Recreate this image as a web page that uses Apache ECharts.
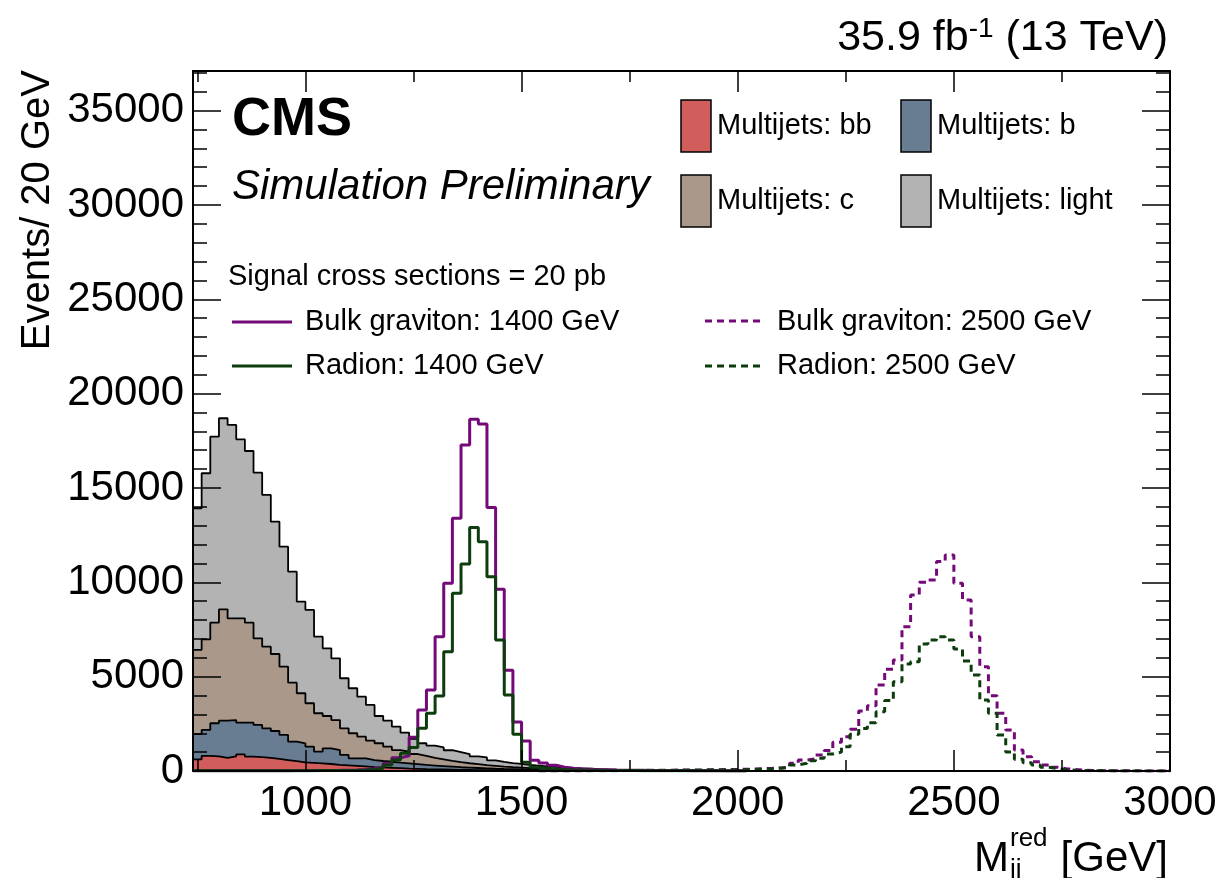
<!DOCTYPE html>
<html>
<head>
<meta charset="utf-8">
<script src="https://cdn.jsdelivr.net/npm/echarts@6/dist/echarts.min.js"></script>
<style>
  html, body { margin: 0; padding: 0; background: #fff; }
  #chart { width: 1220px; height: 878px; }
</style>
</head>
<body>
<div id="chart"></div>
<script>
// Binning of the reduced dijet mass histograms [GeV]
const BIN_START = 740;
const BIN_WIDTH = 20;

// Multijet backgrounds, events per 20 GeV bin, from the first bin (740 GeV) upwards
const multijetBB = [620,800,780,700,770,880,760,740,700,640, 580,520,460,430,400,370,330,300,270,240,
  210,190,170,150,130,115,100,90,80,70, 60,55,50,45,40,35,30,28,25,22,
  20,18,16,14,12,11,10,9,8,7, 6,5,5,4,4,3,3,3,2,2, 2,2,1,1];
const multijetB = [1330,1375,1750,1965,1930,1680,1800,1700,1560,1480, 1330,1035,1010,860,625,830,780,550,400,430,
  370,340,320,290,270,245,220,200,180,160, 140,125,110,95,80,70,65,57,50,43,
  38,34,30,26,23,20,17,15,13,11, 10,9,8,7,6,5,5,4,4,3, 3,3,2,2];
const multijetC = [4465,4805,5330,5905,5390,5530,5300,4590,4330,4080, 3620,3125,2650,2300,2035,1715,1590,1410,1330,1150,
  1030,940,800,670,620,540,480,410,360,310, 270,230,200,170,150,125,105,90,75,65,
  57,48,42,38,33,29,25,21,19,17, 14,12,10,9,8,7,6,6,5,5, 4,4,3,3];
const multijetLight = [7510,8800,9860,10125,10250,9490,9100,8780,8040,7015, 6360,5885,4855,4945,4060,3585,3270,2655,2385,2120,
  1890,1445,1375,1240,1010,800,670,650,630,560, 530,490,420,410,290,250,220,205,180,160,
  135,120,102,82,72,60,48,40,32,27, 24,20,17,15,13,11,10,9,8,7, 6,6,5,5];

// Signals (20 pb), events per bin; 1400 GeV series start at bin 0, 2500 GeV series at bin 40
const graviton1400 = [10,10,10,12,12,14,15,15,16,18,18,20,22,25,28,
  32,38,45,55,80,120,200,400,700,800,
  1785,3230,4290,7120,9950,13390,17280,18640,18390,13970,9630,5340,2600,1590,570,430,300,
  200,150,110,90,70,60,50,45,40,35,30,28,25,22,20,18,16,15,14,12,12,10];
const radion1400 = [8,8,8,9,9,10,10,11,12,12,13,14,16,18,20,
  22,26,30,36,50,80,150,320,580,935,
  1250,2260,3060,3975,6325,9415,10970,12900,12155,10300,6945,4030,1945,470,200,150,110,
  80,60,50,40,35,30,25,22,20,18,16,14,12,11,10,9,8,8,7,6,6,5];
const graviton2500 = [15,15,16,17,18,20,22,24,26,28,30,33,36,40,44,48,52,56,60,65,70,78,86,95,105,120,140,165,
  195,410,580,650,850,1080,1520,1820,2210,3180,3460,4560,5390,5885,7650,9330,10000,10125,11100,11450,
  9950,9065,7120,5530,3990,3060,2175,1110,760,490,320,200,120,80,50,30,20,
  15,12,10,8,6,5,4,3];
const radion2500 = [10,10,11,12,13,14,15,16,18,20,22,24,26,28,30,33,36,40,44,48,52,58,64,72,80,95,115,150,
  195,320,410,540,670,900,1000,1290,1950,2250,2560,3145,3730,4735,5670,5795,6730,6945,7120,6945,
  6465,5830,5090,3765,3060,1910,1010,620,440,320,200,120,70,40,25,15,10,
  8,6,5,4,3,3,2,2];
const SIGNAL_LOW_FIRST_BIN = 0;
const SIGNAL_HIGH_FIRST_BIN = 40;

// Axis ranges and ticks
const X_MIN = 740, X_MAX = 3000;
const Y_MIN = 0, Y_MAX = 37100;
const xMajorTicks = [1000, 1500, 2000, 2500, 3000];
const xMinorTicks = [750, 1250, 1750, 2250, 2750];
const yMajorTicks = [0, 5000, 10000, 15000, 20000, 25000, 30000, 35000];
const yMinorTicks = [1000,2000,3000,4000, 6000,7000,8000,9000, 11000,12000,13000,14000,
  16000,17000,18000,19000, 21000,22000,23000,24000, 26000,27000,28000,29000,
  31000,32000,33000,34000, 36000,37000];

const COLORS = {
  bb: '#d25d5d',
  b: '#687d91',
  c: '#aa998a',
  light: '#b3b3b3',
  graviton: '#730a78',
  radion: '#0d3d0d'
};
const FONT = '"Liberation Sans", Arial, Helvetica, sans-serif';

// Step-histogram points: one point per lower bin edge plus the closing upper edge
function histPoints(values, firstBin, dropToZero) {
  const pts = values.map((v, i) => [BIN_START + (firstBin + i) * BIN_WIDTH, v]);
  const endEdge = BIN_START + (firstBin + values.length) * BIN_WIDTH;
  pts.push([endEdge, dropToZero ? 0 : values[values.length - 1]]);
  return pts;
}

// Cumulative stack: bb, bb+b, bb+b+c, total
const stackBB = multijetBB.slice();
const stackB = stackBB.map((v, i) => v + multijetB[i]);
const stackC = stackB.map((v, i) => v + multijetC[i]);
const stackLight = stackC.map((v, i) => v + multijetLight[i]);

function filledHist(name, values, color) {
  return {
    name, type: 'line', step: 'end', symbol: 'none', silent: true,
    data: histPoints(values, 0, true),
    lineStyle: { color: '#000', width: 1.8 },
    areaStyle: { color, opacity: 1 },
    z: 2
  };
}
function lineHist(name, values, firstBin, color, dashed) {
  return {
    name, type: 'line', step: 'end', symbol: 'none', silent: true,
    data: histPoints(values, firstBin, false),
    lineStyle: { color, width: 3, type: dashed ? [7, 5] : 'solid' },
    z: 3
  };
}

function xAxisDef(position, ticks, len, withLine, withLabels) {
  return {
    type: 'value', min: X_MIN, max: X_MAX, position, z: 5,
    splitLine: { show: false },
    axisLine: { show: withLine, onZero: false, lineStyle: { color: '#000', width: 2 } },
    axisTick: { show: true, inside: true, length: len, customValues: ticks,
      lineStyle: { color: '#000', width: 1.5 } },
    axisLabel: withLabels ? {
      show: true, customValues: ticks, formatter: v => String(v),
      fontSize: 42, fontFamily: FONT, color: '#000', margin: 11
    } : { show: false }
  };
}
function yAxisDef(position, ticks, len, withLine, withLabels) {
  return {
    type: 'value', min: Y_MIN, max: Y_MAX, position, z: 5,
    splitLine: { show: false },
    axisLine: { show: withLine, onZero: false, lineStyle: { color: '#000', width: 2 } },
    axisTick: { show: true, inside: true, length: len, customValues: ticks,
      lineStyle: { color: '#000', width: 1.5 } },
    axisLabel: withLabels ? {
      show: true, customValues: ticks, formatter: v => String(v),
      fontSize: 42, fontFamily: FONT, color: '#000', margin: 9
    } : { show: false }
  };
}

function txt(text, x, y, size, opts) {
  opts = opts || {};
  return {
    type: 'text', x, y, rotation: opts.rotation || 0, z: 10, silent: true,
    style: {
      text, fill: '#000', align: opts.align || 'left', verticalAlign: 'middle',
      font: (opts.style || '') + ' ' + (opts.weight || 'normal') + ' ' + size + 'px ' + FONT
    }
  };
}
function box(x, y, color) {
  return { type: 'rect', z: 10, silent: true, shape: { x, y, width: 30, height: 52 },
    style: { fill: color, stroke: '#000', lineWidth: 1.5 } };
}
function legLine(x1, x2, y, color, dashed) {
  return { type: 'line', z: 10, silent: true, shape: { x1, y1: y, x2, y2: y },
    style: { stroke: color, lineWidth: 3, lineDash: dashed ? [7, 5] : null } };
}

const chart = echarts.init(document.getElementById('chart'), null, { renderer: 'canvas', width: 1220, height: 878 });
chart.setOption({
  animation: false,
  backgroundColor: '#fff',
  grid: { left: 193, top: 71, right: 50, bottom: 107, containLabel: false },
  xAxis: [
    xAxisDef('bottom', xMajorTicks, 21, true, true),
    xAxisDef('bottom', xMinorTicks, 11, false, false),
    xAxisDef('top', xMajorTicks, 21, true, false),
    xAxisDef('top', xMinorTicks, 11, false, false)
  ],
  yAxis: [
    yAxisDef('left', yMajorTicks, 28, true, true),
    yAxisDef('left', yMinorTicks, 14, false, false),
    yAxisDef('right', yMajorTicks, 28, true, false),
    yAxisDef('right', yMinorTicks, 14, false, false)
  ],
  series: [
    filledHist('Multijets: light', stackLight, COLORS.light),
    filledHist('Multijets: c', stackC, COLORS.c),
    filledHist('Multijets: b', stackB, COLORS.b),
    filledHist('Multijets: bb', stackBB, COLORS.bb),
    lineHist('Bulk graviton: 1400 GeV', graviton1400, SIGNAL_LOW_FIRST_BIN, COLORS.graviton, false),
    lineHist('Radion: 1400 GeV', radion1400, SIGNAL_LOW_FIRST_BIN, COLORS.radion, false),
    lineHist('Bulk graviton: 2500 GeV', graviton2500, SIGNAL_HIGH_FIRST_BIN, COLORS.graviton, true),
    lineHist('Radion: 2500 GeV', radion2500, SIGNAL_HIGH_FIRST_BIN, COLORS.radion, true)
  ],
  graphic: [
    // luminosity / energy label
    {
      type: 'text', x: 1168, y: 38, z: 10, silent: true,
      style: {
        text: '35.9 fb{sup|-1} (13 TeV)', fill: '#000', align: 'right', verticalAlign: 'middle',
        font: '43px ' + FONT,
        rich: { sup: { fontSize: 28, fontFamily: FONT, verticalAlign: 'top', lineHeight: 46, padding: [0, 0, 16, 0] } }
      }
    },
    txt('CMS', 232, 120, 54, { weight: 'bold' }),
    txt('Simulation Preliminary', 232, 187, 42, { style: 'italic' }),
    // y axis title
    txt('Events/ 20 GeV', 38, 70, 40, { rotation: Math.PI / 2, align: 'right' }),
    // x axis title
    txt('M', 974, 859, 42),
    txt('red', 1010, 839, 26),
    txt('jj', 1010, 870, 26),
    txt('[GeV]', 1168, 859, 42, { align: 'right' }),
    // background legend
    box(681, 100, COLORS.bb), txt('Multijets: bb', 717, 126, 29),
    box(901, 100, COLORS.b), txt('Multijets: b', 937, 126, 29),
    box(681, 175, COLORS.c), txt('Multijets: c', 717, 201, 29),
    box(901, 175, COLORS.light), txt('Multijets: light', 937, 201, 29),
    // signal legend
    txt('Signal cross sections = 20 pb', 228, 277, 29),
    legLine(232, 292, 322, COLORS.graviton, false), txt('Bulk graviton: 1400 GeV', 305, 322, 29),
    legLine(232, 292, 366, COLORS.radion, false), txt('Radion: 1400 GeV', 305, 366, 29),
    legLine(705, 764, 321, COLORS.graviton, true), txt('Bulk graviton: 2500 GeV', 777, 322, 29),
    legLine(705, 764, 366, COLORS.radion, true), txt('Radion: 2500 GeV', 777, 366, 29)
  ]
});
</script>
</body>
</html>
